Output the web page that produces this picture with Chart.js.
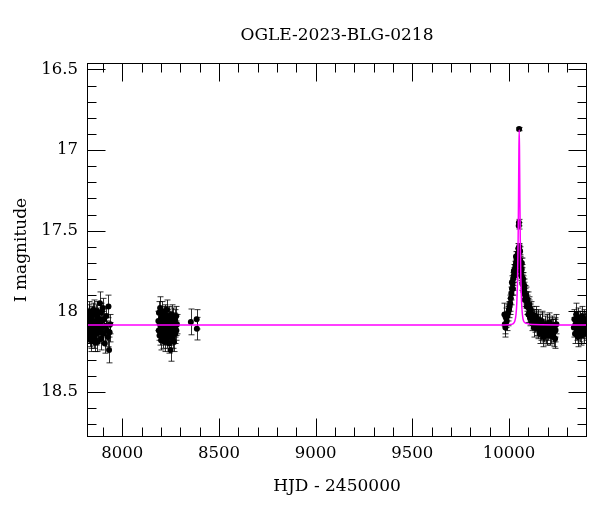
<!DOCTYPE html>
<html>
<head>
<meta charset="utf-8">
<script src="https://cdn.jsdelivr.net/npm/chart.js@4.4.1/dist/chart.umd.min.js"></script>
<style>
  body { margin: 0; background: #fff; }
</style>
</head>
<body>
<canvas id="myChart" width="600" height="512"></canvas>
<script>
// OGLE photometry (HJD - 2450000, I mag, error)
var s1Hjd = [7822, 7824, 7825, 7827, 7828, 7830, 7832, 7834, 7835, 7837, 7839, 7840, 7842, 7844, 7845, 7847, 7849, 7850, 7852, 7854, 7855, 7857, 7859, 7860, 7862, 7864, 7865, 7867, 7869, 7870, 7872, 7874, 7875, 7877, 7879, 7880, 7882, 7885, 7887, 7890, 7892, 7895, 7897, 7900, 7903, 7906, 7910, 7914, 7918, 7922, 7926, 7929, 7932, 7935, 7938];
var s1Mag = [18.05, 18.13, 18.12, 18.02, 18.00, 18.09, 18.15, 18.06, 18.08, 18.17, 18.04, 18.18, 18.03, 18.11, 18.10, 18.14, 18.01, 18.06, 17.99, 18.12, 18.16, 18.08, 18.19, 18.09, 18.02, 18.14, 18.12, 18.07, 18.00, 18.06, 18.19, 18.10, 18.04, 18.13, 18.05, 18.11, 18.08, 17.95, 18.13, 18.01, 18.17, 18.06, 18.10, 17.98, 18.14, 18.05, 18.20, 18.09, 18.03, 18.12, 18.16, 17.97, 18.24, 18.13, 18.08];
var s1Err = [0.06, 0.06, 0.07, 0.06, 0.06, 0.06, 0.07, 0.06, 0.06, 0.06, 0.06, 0.07, 0.06, 0.06, 0.06, 0.07, 0.06, 0.06, 0.06, 0.06, 0.07, 0.06, 0.06, 0.06, 0.06, 0.07, 0.06, 0.06, 0.06, 0.06, 0.06, 0.07, 0.06, 0.06, 0.06, 0.06, 0.06, 0.07, 0.06, 0.06, 0.07, 0.06, 0.06, 0.06, 0.06, 0.07, 0.06, 0.06, 0.06, 0.06, 0.06, 0.07, 0.08, 0.06, 0.06];

var s2Hjd = [8187, 8189, 8190, 8193, 8195, 8196, 8199, 8201, 8202, 8205, 8207, 8208, 8211, 8213, 8214, 8217, 8219, 8220, 8223, 8225, 8226, 8229, 8231, 8232, 8235, 8237, 8238, 8241, 8243, 8244, 8247, 8249, 8250, 8253, 8255, 8256, 8259, 8261, 8262, 8265, 8267, 8268, 8271, 8273, 8274, 8277, 8279, 8280, 8283];
var s2Mag = [18.06, 18.12, 18.01, 18.15, 18.08, 17.98, 18.10, 18.18, 18.04, 18.13, 18.07, 18.00, 18.16, 18.09, 18.03, 18.12, 18.19, 18.06, 18.02, 18.14, 18.08, 18.11, 17.99, 18.17, 18.05, 18.10, 18.14, 18.03, 18.20, 18.09, 18.12, 18.06, 18.24, 18.15, 18.02, 18.11, 18.08, 18.17, 18.04, 18.13, 18.07, 18.19, 18.10, 18.05, 18.14, 18.09, 18.03, 18.12, 18.08];
var s2Err = [0.06, 0.06, 0.07, 0.06, 0.06, 0.07, 0.06, 0.06, 0.06, 0.06, 0.06, 0.06, 0.07, 0.06, 0.06, 0.06, 0.06, 0.06, 0.06, 0.07, 0.06, 0.06, 0.06, 0.06, 0.06, 0.06, 0.06, 0.06, 0.06, 0.06, 0.06, 0.06, 0.07, 0.06, 0.06, 0.07, 0.06, 0.06, 0.06, 0.06, 0.06, 0.06, 0.06, 0.06, 0.06, 0.06, 0.06, 0.06, 0.06];

var s3Hjd = [8355, 8385, 8386];
var s3Mag = [18.066, 18.05, 18.108];
var s3Err = [0.08, 0.06, 0.07];

var s4Hjd = [9976, 9978, 9981, 9984, 9988, 9992, 9996, 10000, 10003, 10006, 10009, 10012, 10015, 10018, 10021, 10024, 10027, 10030, 10033, 10036, 10039, 10042, 10044, 10046, 10048, 10049, 10050, 10051, 10052, 10054, 10056, 10058, 10060, 10062, 10065, 10068, 10071, 10074, 10077, 10080, 10083, 10086, 10090, 10094, 10098, 10102, 10106, 10110, 10115, 10120, 10125, 10130, 10135, 10140, 10145, 10150, 10155, 10160, 10165, 10170, 10175, 10180, 10185, 10190, 10195, 10200, 10205, 10210, 10215, 10220, 10225, 10230, 10235, 10240, 10245,
    10015, 10020, 10025, 10033, 10036, 10040, 10045, 10053, 10057, 10059, 10063, 10066, 10069, 10072, 10076, 10079, 10082, 10088, 10092, 10096, 10100, 10104, 10108, 10112, 10118, 10128, 10138, 10148, 10158, 10168, 10178, 10188, 10198, 10208, 10218, 10228, 10238];
var s4Mag = [18.02, 18.08, 18.10, 18.04, 18.06, 18.03, 18.01, 17.99, 17.97, 17.95, 17.92, 17.89, 17.86, 17.83, 17.80, 17.78, 17.76, 17.74, 17.72, 17.70, 17.68, 17.66, 17.70, 17.64, 17.61, 17.65, 17.47, 17.45, 16.87, 17.62, 17.68, 17.72, 17.70, 17.75, 17.74, 17.79, 17.82, 17.84, 17.86, 17.88, 17.90, 17.92, 17.93, 17.95, 17.97, 17.98, 18.00, 18.01, 18.03, 18.02, 18.05, 18.04, 18.07, 18.06, 18.09, 18.05, 18.10, 18.08, 18.12, 18.07, 18.11, 18.13, 18.09, 18.14, 18.08, 18.12, 18.10, 18.15, 18.11, 18.09, 18.13, 18.16, 18.10, 18.12, 18.08,
    17.82, 17.86, 17.75, 17.77, 17.66, 17.71, 17.67, 17.60, 17.63, 17.75, 17.78, 17.70, 17.83, 17.80, 17.88, 17.84, 17.93, 17.90, 17.97, 17.93, 18.02, 17.96, 18.04, 17.99, 18.07, 18.10, 18.03, 18.11, 18.14, 18.06, 18.16, 18.12, 18.15, 18.07, 18.14, 18.11, 18.17];
var s4Err = [0.07, 0.06, 0.06, 0.06, 0.06, 0.06, 0.05, 0.05, 0.05, 0.05, 0.04, 0.04, 0.04, 0.04, 0.04, 0.04, 0.03, 0.03, 0.03, 0.03, 0.03, 0.03, 0.03, 0.03, 0.03, 0.03, 0.02, 0.02, 0.01, 0.03, 0.03, 0.03, 0.03, 0.03, 0.03, 0.03, 0.04, 0.04, 0.04, 0.04, 0.04, 0.04, 0.05, 0.05, 0.05, 0.05, 0.05, 0.05, 0.05, 0.05, 0.06, 0.05, 0.06, 0.06, 0.06, 0.06, 0.06, 0.06, 0.06, 0.06, 0.06, 0.06, 0.06, 0.06, 0.06, 0.06, 0.06, 0.06, 0.06, 0.06, 0.06, 0.06, 0.06, 0.07, 0.06,
    0.04, 0.04, 0.04, 0.03, 0.03, 0.03, 0.03, 0.02, 0.03, 0.03, 0.03, 0.03, 0.04, 0.04, 0.04, 0.04, 0.04, 0.05, 0.05, 0.05, 0.05, 0.05, 0.05, 0.05, 0.05, 0.06, 0.06, 0.06, 0.06, 0.06, 0.06, 0.06, 0.06, 0.06, 0.06, 0.06, 0.06];

var s5Hjd = [10335, 10338, 10341, 10344, 10347, 10350, 10353, 10356, 10359, 10362, 10365, 10368, 10371, 10374, 10377, 10380, 10383, 10386, 10389, 10392, 10395, 10398, 10401];
var s5Mag = [18.10, 18.05, 18.14, 18.08, 18.02, 18.12, 18.07, 18.16, 18.04, 18.10, 18.13, 18.06, 18.09, 18.15, 18.03, 18.11, 18.08, 18.14, 18.05, 18.10, 18.07, 18.12, 18.09];
var s5Err = [0.06, 0.06, 0.06, 0.06, 0.07, 0.06, 0.06, 0.06, 0.06, 0.06, 0.06, 0.06, 0.06, 0.06, 0.06, 0.06, 0.06, 0.06, 0.06, 0.06, 0.06, 0.06, 0.06];

// model curve
var modelHjd = [7818, 9950, 10000, 10020, 10030, 10036, 10040, 10044, 10047, 10049, 10051, 10052.5, 10054, 10056, 10058, 10061, 10065, 10069, 10075, 10090, 10120, 10403];
var modelMag = [18.085, 18.085, 18.083, 18.078, 18.06, 18.02, 17.95, 17.80, 17.55, 17.30, 17.00, 16.875, 17.00, 17.30, 17.55, 17.80, 17.95, 18.02, 18.06, 18.075, 18.082, 18.085];

// tick labels
var xTickValues = [8000, 8500, 9000, 9500, 10000];
var yTickValues = [16.5, 17, 17.5, 18, 18.5];

var xMin = 7818, xMax = 10403;
var yMin = 16.46, yMax = 18.78;

var points = [];
[[s1Hjd, s1Mag, s1Err], [s2Hjd, s2Mag, s2Err], [s3Hjd, s3Mag, s3Err], [s4Hjd, s4Mag, s4Err], [s5Hjd, s5Mag, s5Err]].forEach(function (s) {
    for (var i = 0; i < s[0].length; i++) {
        points.push({ x: s[0][i], y: s[1][i], e: s[2][i] });
    }
});
var model = modelHjd.map(function (h, i) { return { x: h, y: modelMag[i] }; });

var serif = '"DejaVu Serif", serif';

// error bars under the points, frame and inward ticks on top
var frameTicks = {
    id: 'frameTicks',
    beforeDatasetsDraw: function (chart) {
        var ctx = chart.ctx, xs = chart.scales.x, ys = chart.scales.y, a = chart.chartArea;
        ctx.save();
        ctx.beginPath();
        ctx.rect(a.left, a.top, a.right - a.left, a.bottom - a.top);
        ctx.clip();
        ctx.strokeStyle = 'rgba(0,0,0,0.8)';
        ctx.lineWidth = 1;
        points.forEach(function (p) {
            var px = Math.round(xs.getPixelForValue(p.x)) + 0.5;
            var y1 = ys.getPixelForValue(p.y - p.e);
            var y2 = ys.getPixelForValue(p.y + p.e);
            ctx.beginPath();
            ctx.moveTo(px, y1); ctx.lineTo(px, y2);
            ctx.moveTo(px - 3, y1); ctx.lineTo(px + 3, y1);
            ctx.moveTo(px - 3, y2); ctx.lineTo(px + 3, y2);
            ctx.stroke();
        });
        ctx.restore();
    },
    afterDraw: function (chart) {
        var ctx = chart.ctx, xs = chart.scales.x, ys = chart.scales.y, a = chart.chartArea;
        var l = Math.round(a.left) + 0.5, r = Math.round(a.right) - 0.5;
        var t = Math.round(a.top) + 0.5, b = Math.round(a.bottom) - 0.5;
        ctx.save();
        ctx.strokeStyle = '#000';
        ctx.lineWidth = 1;
        ctx.strokeRect(l, t, r - l, b - t);
        ctx.beginPath();
        for (var v = 7900; v <= xMax; v += 100) {
            var px = Math.round(xs.getPixelForValue(v)) + 0.5;
            var len = (v % 500 === 0) ? 18 : 9;
            ctx.moveTo(px, b); ctx.lineTo(px, b - len);
            ctx.moveTo(px, t); ctx.lineTo(px, t + len);
        }
        for (var k = 165; k <= 187; k++) {
            var py = Math.round(ys.getPixelForValue(k / 10)) + 0.5;
            var ylen = (k % 5 === 0) ? 18 : 9;
            ctx.moveTo(l, py); ctx.lineTo(l + ylen, py);
            ctx.moveTo(r, py); ctx.lineTo(r - ylen, py);
        }
        ctx.stroke();
        ctx.restore();
    }
};

var ctx = document.getElementById('myChart');
var myChart = new Chart(ctx, {
    type: 'scatter',
    data: {
        datasets: [
            {
                label: 'model',
                data: model,
                showLine: true,
                borderColor: '#ff00ff',
                borderWidth: 1.5,
                pointRadius: 0,
                cubicInterpolationMode: 'monotone',
                clip: 0
            },
            {
                label: 'OGLE',
                data: points,
                backgroundColor: '#000',
                borderColor: '#000',
                pointRadius: 3,
                pointBorderWidth: 0,
                clip: 0
            }
        ]
    },
    options: {
        responsive: false,
        animation: false,
        layout: { padding: { left: 0, right: 13, top: 0, bottom: 0 } },
        plugins: {
            legend: { display: false },
            tooltip: { enabled: false },
            title: {
                display: true,
                text: 'OGLE-2023-BLG-0218',
                color: '#000',
                fullSize: false,
                font: { family: serif, size: 17, weight: 'normal' },
                padding: { top: 25, bottom: 17.6 }
            }
        },
        scales: {
            x: {
                type: 'linear',
                min: xMin,
                max: xMax,
                grid: { display: false, drawTicks: false },
                border: { display: false },
                afterBuildTicks: function (s) {
                    s.ticks = xTickValues.map(function (v) { return { value: v }; });
                },
                ticks: {
                    color: '#000',
                    padding: 7,
                    maxRotation: 0,
                    autoSkip: false,
                    font: { family: serif, size: 16.5 },
                    callback: function (v) { return String(v); }
                },
                title: {
                    display: true,
                    text: 'HJD - 2450000',
                    color: '#000',
                    font: { family: serif, size: 17 },
                    padding: { top: 0, bottom: 15 }
                },
                afterFit: function (s) { s.height = 75; s.paddingLeft = 0; s.paddingRight = 0; }
            },
            y: {
                type: 'linear',
                reverse: true,
                min: yMin,
                max: yMax,
                grid: { display: false, drawTicks: false },
                border: { display: false },
                afterBuildTicks: function (s) {
                    s.ticks = yTickValues.map(function (v) { return { value: v }; });
                },
                ticks: {
                    color: '#000',
                    padding: 9,
                    autoSkip: false,
                    font: { family: serif, size: 16.5 },
                    callback: function (v) { return String(v); }
                },
                title: {
                    display: true,
                    text: 'I magnitude',
                    color: '#000',
                    font: { family: serif, size: 17 },
                    padding: { top: 11, bottom: 0 }
                },
                afterFit: function (s) { s.width = 87; s.paddingTop = 0; s.paddingBottom = 0; }
            }
        }
    },
    plugins: [frameTicks]
});
</script>
</body>
</html>
